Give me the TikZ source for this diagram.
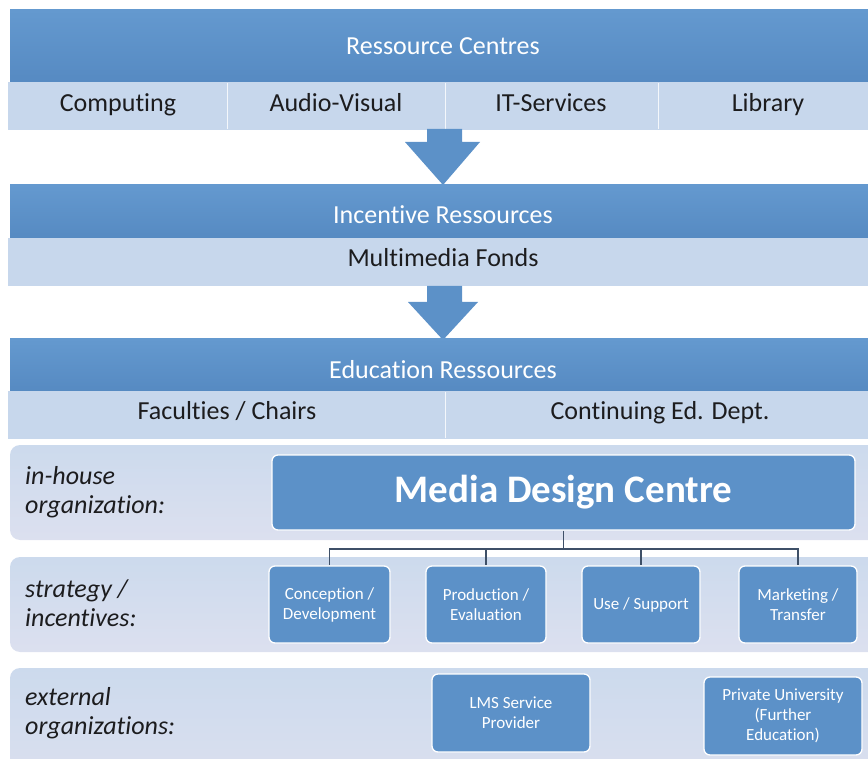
\documentclass[tikz,border=0pt]{standalone}
\usepackage{fontspec}
\setmainfont[Ligatures=NoCommon]{Carlito}
\definecolor{dkblue}{RGB}{92,145,200}
\definecolor{dkblueT}{RGB}{100,153,207}
\definecolor{dkblueB}{RGB}{86,138,194}
\definecolor{ltband}{RGB}{199,215,236}
\definecolor{lavT}{RGB}{204,218,237}
\definecolor{lavB}{RGB}{220,224,239}
\definecolor{txt}{RGB}{28,28,30}
\definecolor{conn}{RGB}{62,80,104}
\begin{document}
\begin{tikzpicture}[x=1pt,y=-1pt,
  hdr/.style={text=white,font=\fontsize{26}{31}\selectfont,inner sep=0pt,text height=18pt,text depth=6pt},
  cell/.style={text=txt,font=\fontsize{26}{31}\selectfont,inner sep=0pt,text height=18pt,text depth=6pt},
  lbl/.style={text=txt,font=\itshape\fontsize{26}{29}\selectfont,align=left,anchor=west,inner sep=0pt},
  orgbox/.style={rounded corners=6pt,fill=dkblue,draw=white,line width=1.3pt,text=white,align=center,inner sep=0pt,font=\fontsize{17}{20}\selectfont},
  darkband/.style={top color=dkblueT,bottom color=dkblueB},
  lightband/.style={fill=ltband},
  rowband/.style={top color=lavT,bottom color=lavB,rounded corners=10pt},
  blockarrow/.style={fill=dkblue},
  divider/.style={draw=white!80!ltband,line width=0.8pt},
  connector/.style={draw=conn,line width=1.4pt}]
\useasboundingbox (0,0) rectangle (868,759);
\begin{scope}
\clip (0,0) rectangle (868,759);
% ---------- band 1
\shade[darkband] (10,10) rectangle (880,82);
\fill[lightband] (8,82) rectangle (880,130);
\draw[divider] (227,83) -- (227,129) (445,83) -- (445,129) (658,83) -- (658,129);
\node[hdr] (rc) at (443,49) {Ressource Centres};
\node[cell] (comp) at (118,106) {Computing};
\node[cell] (av) at (336,106) {Audio-Visual};
\node[cell] (its) at (551,106) {IT-Services};
\node[cell] (lib) at (768,106) {Library};
% ---------- arrow 1
\fill[blockarrow] (427,129) -- (462,129) -- (462,142) -- (480,142) -- (443,185) -- (405,142) -- (427,142) -- cycle;
% ---------- band 2
\shade[darkband] (10,185) rectangle (880,238);
\fill[lightband] (8,238) rectangle (880,286);
\node[hdr] (ir) at (443,218) {Incentive Ressources};
\node[cell] (mf) at (443,261) {Multimedia Fonds};
% ---------- arrow 2
\fill[blockarrow] (427,286) -- (462,286) -- (462,302) -- (478,302) -- (443,340) -- (408,302) -- (427,302) -- cycle;
% ---------- band 3
\shade[darkband] (10,339) rectangle (880,391);
\fill[lightband] (8,391) rectangle (880,439);
\draw[divider] (445,392) -- (445,438);
\node[hdr] (er) at (443,373) {Education Ressources};
\node[cell] (fac) at (227,414) {Faculties / Chairs};
\node[cell] (ced) at (660,414) {Continuing Ed. Dept.};
% ---------- row bands
\shade[rowband] (10,445) rectangle (890,540);
\shade[rowband] (10,557) rectangle (890,652);
\shade[rowband] (10,668) rectangle (890,790);
\node[lbl] (l1) at (25,492) {in-house\\organization:};
\node[lbl] (l2) at (25,603) {strategy /\\incentives:};
\node[lbl] (l3) at (25,713) {external\\organizations:};
% ---------- media design centre
\node[orgbox,minimum width=583pt,minimum height=75pt,font=\bfseries\fontsize{39}{44}\selectfont] (mdc) at (563.5,492.5) {Media Design Centre};
% ---------- strategy boxes
\node[orgbox,minimum width=121pt,minimum height=77pt] (b1) at (329.5,604.5) {Conception /\\Development};
\node[orgbox,minimum width=120pt,minimum height=77pt] (b2) at (486,604.5) {Production /\\Evaluation};
\node[orgbox,minimum width=118pt,minimum height=77pt] (b3) at (641,604.5) {Use / Support};
\node[orgbox,minimum width=118pt,minimum height=77pt] (b4) at (798,604.5) {Marketing /\\Transfer};
% ---------- connectors
\coordinate (j) at (563.5,549);
\draw[connector] (mdc.south) -- (j);
\draw[connector] (j) -| (b1.north);
\draw[connector] (j) -| (b2.north);
\draw[connector] (j) -| (b3.north);
\draw[connector] (j) -| (b4.north);
% ---------- external boxes
\node[orgbox,minimum width=158pt,minimum height=78pt] (lms) at (511,713) {LMS Service\\Provider};
\node[orgbox,minimum width=158pt,minimum height=78pt] (pu) at (783,716) {Private University\\(Further\\Education)};
\end{scope}
\end{tikzpicture}
\end{document}
